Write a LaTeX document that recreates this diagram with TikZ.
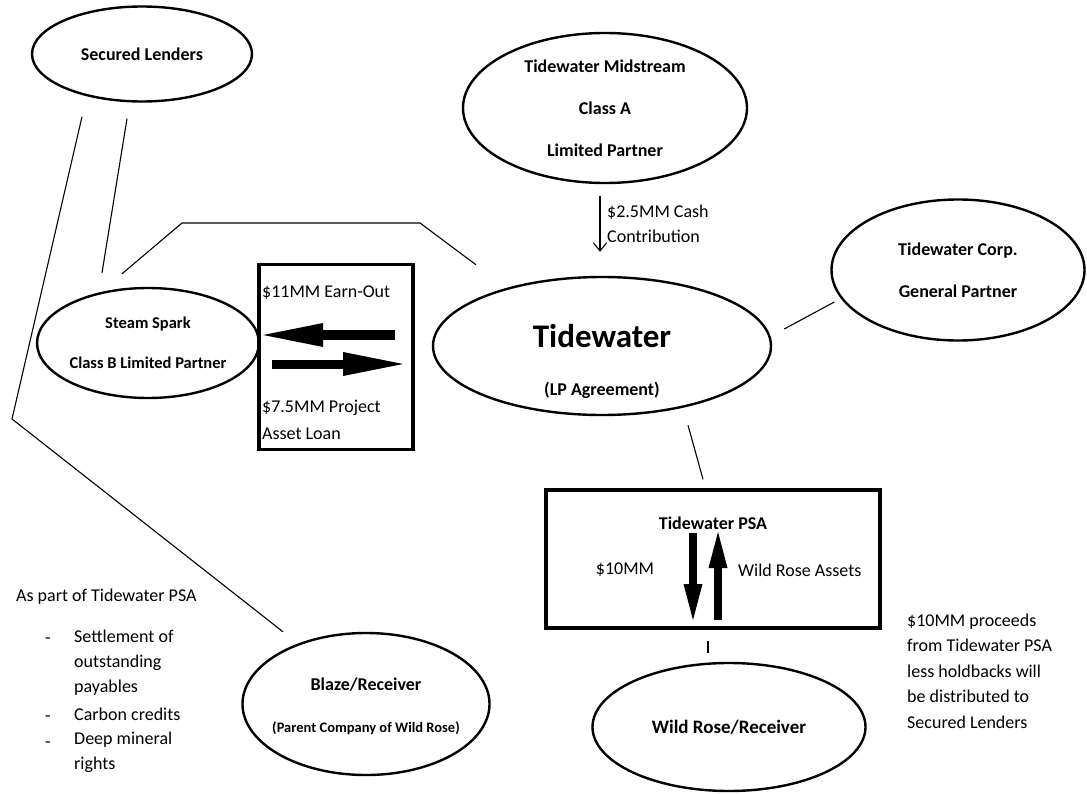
\documentclass[tikz,border=0pt]{standalone}
\usepackage{fontspec}
\setmainfont{Carlito}
\usetikzlibrary{arrows.meta, shapes.geometric, positioning}

\begin{document}
\begin{tikzpicture}[
            x=1pt, y=-1pt,
            party/.style={ellipse, draw, line width=2.4pt, inner sep=0pt, align=center,
                font=\bfseries\fontsize{18}{21}\selectfont},
            partytext/.style={inner sep=0pt, font=\bfseries\fontsize{18}{21}\selectfont},
            link/.style={line width=1.1pt},
            framebox/.style={draw, line width=3.5pt, inner sep=0pt},
            plain/.style={inner sep=0pt, align=left, font=\fontsize{18}{25}\selectfont},
            bulletdash/.style={inner sep=0pt, font=\fontsize{18}{25}\selectfont},
            fatarrow/.style={line width=9pt,
                -{Triangle[length=60pt, width=24pt, line width=0pt]}},
            psaarrow/.style={line width=8pt,
                -{Triangle[length=36pt, width=19pt, line width=0pt]}}
        ]
        \useasboundingbox (0,0) rectangle (1087,794);

        % parties
        \node[party, minimum width=220pt, minimum height=95pt] (lenders) at (142,54) {Secured Lenders};
        \node[party, minimum width=284pt, minimum height=150pt,
            font=\bfseries\fontsize{18}{42}\selectfont] (midstream) at (605,108)
            {Tidewater Midstream\\Class A\\Limited Partner};
        \node[party, minimum width=208pt, minimum height=110pt,
            font=\bfseries\fontsize{16.5}{40}\selectfont] (spark) at (148,343)
            {Steam Spark\\Class B Limited Partner};
        \node[party, minimum width=253pt, minimum height=141pt,
            font=\bfseries\fontsize{18}{42}\selectfont] (corp) at (958,270)
            {Tidewater Corp.\\General Partner};
        \node[party, minimum width=338pt, minimum height=138pt] (tide) at (602,346) {};
        \node[partytext, font=\bfseries\fontsize{33}{36}\selectfont] (tidename) at (602,336) {Tidewater};
        \node[partytext] (tidelp) at (602,390) {(LP Agreement)};
        \node[party, minimum width=273pt, minimum height=128pt,
            font=\bfseries\fontsize{19}{22}\selectfont] (wildrose) at (729,727) {Wild Rose/Receiver};
        \node[party, minimum width=247pt, minimum height=142pt] (blaze) at (366,704) {};
        \node[partytext] (blazename) at (366,685) {Blaze/Receiver};
        \node[partytext, font=\bfseries\fontsize{14.5}{17}\selectfont] (blazenote) at (366,728)
            {(Parent Company of Wild Rose)};

        % boxes
        \node[framebox, minimum width=154pt, minimum height=185pt] (loanbox) at (336,357) {};
        \node[framebox, minimum width=334pt, minimum height=138pt] (psa) at (713,559) {};

        % connectors
        \coordinate (kink) at (12,419);
        \coordinate (bendA) at (182,223);
        \coordinate (bendB) at (420,223);
        \draw[link] ([shift={(-60,14)}]lenders.south) -- (kink) -- ([shift={(-83,0)}]blaze.north);
        \draw[link] ([shift={(-15,16)}]lenders.south) -- ([shift={(-46,-14)}]spark.north);
        \draw[link] ([shift={(-26,-13)}]spark.north) -- (bendA) -- (bendB)
            -- ([shift={(-126,-11)}]tide.north);
        \draw[link] ([shift={(12,-17)}]tide.east) -- ([shift={(4,32)}]corp.west);
        \draw[link] ([shift={(86,9)}]tide.south) -- ([shift={(-10,-9)}]psa.north);
        \draw[link] ([shift={(-5,11)}]psa.south) -- ([shift={(-21,-9)}]wildrose.north);
        \draw[link, -{Straight Barb[length=8pt, width=13pt]}]
            ([shift={(-5,12)}]midstream.south) -- ([shift={(-2,-24)}]tide.north);
        \node[plain, anchor=west] (cashtext) at (607,224) {\$2.5MM Cash\\Contribution};

        % earn-out and loan
        \draw[fatarrow] ([shift={(59,-22)}]loanbox.center) -- ([shift={(-73,-22)}]loanbox.center);
        \draw[fatarrow] ([shift={(-64,7)}]loanbox.center) -- ([shift={(67,7)}]loanbox.center);
        \node[plain, anchor=west] (earnout) at ([shift={(-74,-64)}]loanbox.center) {\$11MM Earn-Out};
        \node[plain, anchor=west, font=\fontsize{18}{27}\selectfont] (assetloan)
            at ([shift={(-74,63)}]loanbox.center) {\$7.5MM Project\\Asset Loan};

        % purchase and sale
        \draw[psaarrow] ([shift={(-20,-26)}]psa.center) -- ([shift={(-20,61)}]psa.center);
        \draw[psaarrow] ([shift={(5,61)}]psa.center) -- ([shift={(5,-27)}]psa.center);
        \node[partytext] (psatitle) at ([shift={(0,-36)}]psa.center) {Tidewater PSA};
        \node[plain] (psacash) at ([shift={(-88,11)}]psa.center) {\$10MM};
        \node[plain, anchor=west] (psaassets) at ([shift={(25,11)}]psa.center) {Wild Rose Assets};

        % notes
        \node[plain, anchor=west] (psanote) at (16,597) {As part of Tidewater PSA};
        \foreach \y in {641,719,745}
            \node[bulletdash] at (48,\y) {-};
        \node[plain, anchor=west] (settle) at (74,663) {Settlement of\\outstanding\\payables};
        \node[plain, anchor=west] (carbon) at (74,714) {Carbon credits};
        \node[plain, anchor=west] (mineral) at (74,752) {Deep mineral\\rights};
        \node[plain, anchor=west, font=\fontsize{18}{25.5}\selectfont] (proceeds) at (907,671)
            {\$10MM proceeds\\from Tidewater PSA\\less holdbacks will\\be distributed to\\Secured Lenders};
    \end{tikzpicture}
\end{document}
